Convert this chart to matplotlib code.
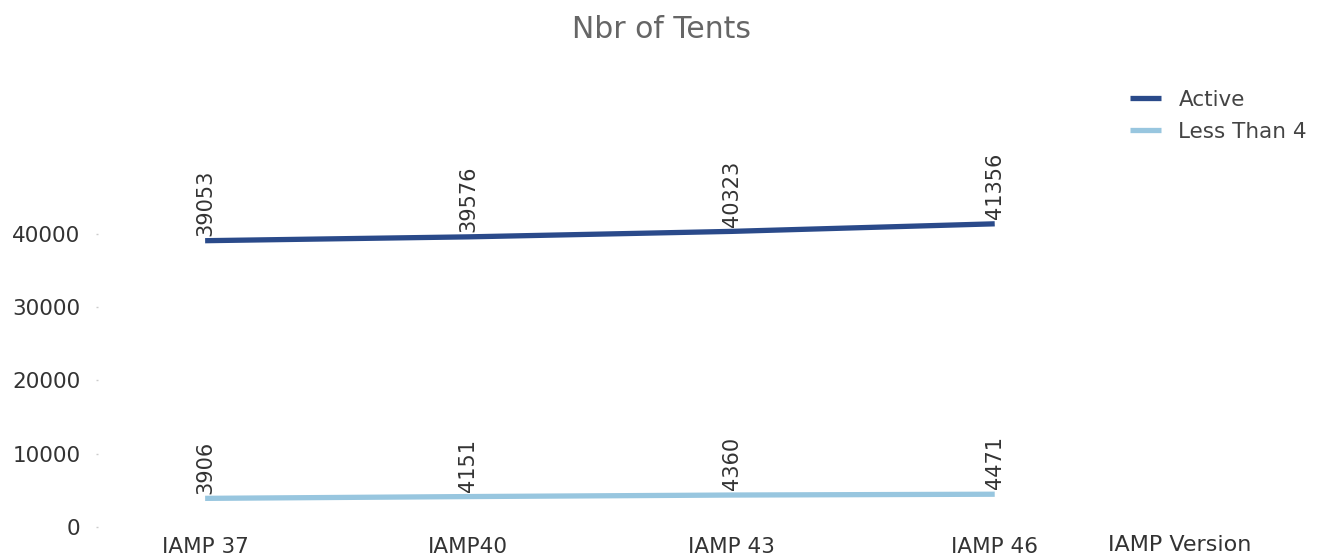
import numpy as np
import matplotlib
matplotlib.use('Agg')
import matplotlib.pyplot as plt

# data
versions = ['IAMP 37', 'IAMP40', 'IAMP 43', 'IAMP 46']
active = [39053, 39576, 40323, 41356]
less_than_4 = [3906, 4151, 4360, 4471]
yticks = [0, 10000, 20000, 30000, 40000]

W, H = 1338, 559
fig = plt.figure(figsize=(W / 100, H / 100), dpi=100)
ax = fig.add_axes([98 / W, 32 / H, (1100 - 98) / W, (499 - 32) / H])

x = np.arange(len(versions))
c_active = '#2a4a8a'
c_less = '#98c6df'
ax.plot(x, active, color=c_active, lw=3.8, solid_capstyle='butt', label='Active')
ax.plot(x, less_than_4, color=c_less, lw=3.8, solid_capstyle='butt', label='Less Than 4')

for xi, v in zip(x, active):
    ax.annotate(str(v), (xi, v), xytext=(0, 3.5), textcoords='offset points',
                rotation=90, ha='center', va='bottom', fontsize=15, color='#333333')
for xi, v in zip(x, less_than_4):
    ax.annotate(str(v), (xi, v), xytext=(0, 3.5), textcoords='offset points',
                rotation=90, ha='center', va='bottom', fontsize=15, color='#333333')

ax.set_xlim(-0.407, 3.40)
ax.set_ylim(0, 63700)
ax.set_yticks(yticks)
ax.set_yticklabels([str(t) for t in yticks])
ax.set_xticks(x)
ax.set_xticklabels(versions)
ax.tick_params(axis='y', length=1.5, width=1, color='#cccccc', pad=11,
               labelsize=15.5, labelcolor='#333333')
ax.tick_params(axis='x', length=0, pad=7, labelsize=15.5, labelcolor='#333333')
for s in ax.spines.values():
    s.set_visible(False)

fig.text(1180 / W, 1 - 545 / H, 'IAMP Version', ha='center', va='center',
         fontsize=16, color='#333333')
fig.text(661 / W, 1 - 29 / H, 'Nbr of Tents', ha='center', va='center',
         fontsize=21.5, color='#666666')

leg = ax.legend(loc='upper left', bbox_to_anchor=(1130 / W, 1 - 90 / H),
                bbox_transform=fig.transFigure, frameon=False, fontsize=15.5,
                handlelength=1.45, handletextpad=0.8, labelspacing=0.55,
                borderaxespad=0, borderpad=0)
for t in leg.get_texts():
    t.set_color('#444444')

fig.savefig('out.png', dpi=100)
